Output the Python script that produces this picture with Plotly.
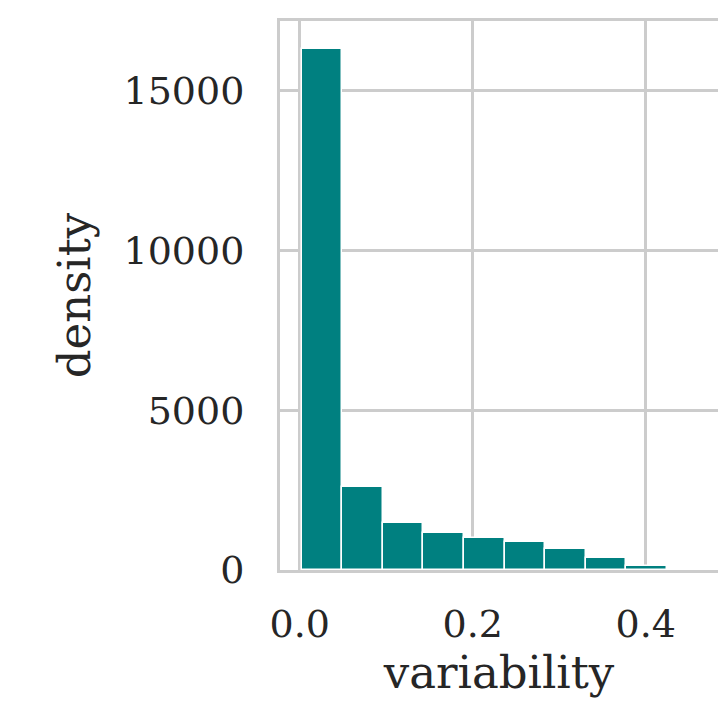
import plotly.graph_objects as go

# Histogram of variability: left bin edges, bin width and density per bin
bin_left = [0.0023, 0.0492, 0.0962, 0.1431, 0.1901, 0.2370, 0.2839, 0.3309, 0.3778]
bin_width = 0.0469
density = [16327, 2588, 1471, 1158, 992, 867, 657, 366, 125]

x_ticks = [0.0, 0.2, 0.4]
y_ticks = [0, 5000, 10000, 15000]

FONT = "DejaVu Serif"
GRID = "#cccccc"
TEXT = "#262626"

fig = go.Figure(
    go.Bar(
        x=bin_left,
        y=density,
        width=[bin_width] * len(bin_left),
        offset=0,
        marker=dict(color="#008080", line=dict(color="white", width=1.5)),
    )
)

fig.update_layout(
    width=718,
    height=701,
    margin=dict(l=280, r=0, t=21, b=131),
    plot_bgcolor="white",
    paper_bgcolor="white",
    showlegend=False,
    font=dict(family=FONT, color=TEXT, size=38),
    bargap=0,
)

fig.update_xaxes(
    range=[-0.0228, 0.4836],
    tickvals=x_ticks,
    tickformat=".1f",
    showgrid=True,
    gridcolor=GRID,
    gridwidth=2.5,
    showline=True,
    linecolor=GRID,
    linewidth=3,
    mirror=True,
    zeroline=False,
    ticks="",
    ticklabelstandoff=18,
    title=dict(text="variability", font=dict(size=45), standoff=6),
)

fig.update_yaxes(
    range=[0, 17191],
    tickvals=y_ticks,
    tickformat="d",
    showgrid=True,
    gridcolor=GRID,
    gridwidth=2.5,
    showline=True,
    linecolor=GRID,
    linewidth=3,
    mirror=False,
    zeroline=False,
    ticks="",
    ticklabelstandoff=25,
    title=dict(text="density", font=dict(size=45), standoff=19),
)

fig.write_html("out.html")
